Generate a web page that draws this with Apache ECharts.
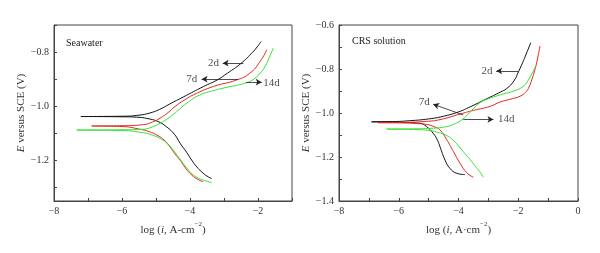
<!DOCTYPE html>
<html>
<head>
<meta charset="utf-8">
<script src="https://cdn.jsdelivr.net/npm/echarts@6/dist/echarts.min.js"></script>
<style>
  html, body { margin: 0; padding: 0; background: #fff; }
  #chart { width: 600px; height: 253px; }
</style>
</head>
<body>
<div id="chart"></div>
<script>
// Seawater: [log i, E] for each branch (cathodic / anodic start at the tip)
var seaBlackAnodic = [[-7.21,-1.038],[-6.0,-1.037],[-5.5,-1.033],[-5.18,-1.025],[-4.9,-1.012],[-4.6,-0.992],[-4.2,-0.966],[-3.6,-0.927],[-3.2,-0.903],[-2.9,-0.878],[-2.5,-0.842],[-2.2,-0.806],[-2.05,-0.785],[-1.91,-0.761]];
var seaBlackCathodic = [[-7.21,-1.038],[-6.0,-1.039],[-5.5,-1.041],[-5.27,-1.045],[-4.95,-1.056],[-4.69,-1.076],[-4.45,-1.105],[-4.29,-1.137],[-4.1,-1.17],[-3.95,-1.199],[-3.8,-1.224],[-3.66,-1.242],[-3.5,-1.258],[-3.36,-1.267]];
var seaRedAnodic = [[-6.89,-1.073],[-6.0,-1.072],[-5.37,-1.068],[-5.1,-1.058],[-4.88,-1.044],[-4.65,-1.024],[-4.44,-1.001],[-4.15,-0.976],[-3.9,-0.958],[-3.31,-0.927],[-2.63,-0.903],[-2.24,-0.878],[-1.94,-0.835],[-1.74,-0.791]];
var seaRedCathodic = [[-6.89,-1.073],[-6.0,-1.075],[-5.47,-1.085],[-5.2,-1.094],[-4.98,-1.106],[-4.75,-1.126],[-4.59,-1.15],[-4.45,-1.175],[-4.29,-1.199],[-4.15,-1.225],[-4.0,-1.248],[-3.8,-1.268],[-3.61,-1.279]];
var seaGreenAnodic = [[-7.33,-1.088],[-6.0,-1.087],[-5.37,-1.085],[-5.1,-1.076],[-4.88,-1.063],[-4.65,-1.045],[-4.49,-1.03],[-4.3,-1.01],[-4.1,-0.989],[-3.71,-0.958],[-3.3,-0.942],[-3.02,-0.933],[-2.38,-0.915],[-2.1,-0.898],[-1.94,-0.878],[-1.8,-0.855],[-1.7,-0.829],[-1.55,-0.785]];
var seaGreenCathodic = [[-7.33,-1.088],[-6.0,-1.09],[-5.37,-1.098],[-5.1,-1.107],[-4.88,-1.119],[-4.65,-1.14],[-4.49,-1.162],[-4.35,-1.186],[-4.2,-1.211],[-4.05,-1.235],[-3.9,-1.254],[-3.75,-1.266],[-3.61,-1.273],[-3.36,-1.282]];

// CRS solution
var crsBlackAnodic = [[-6.91,-1.04],[-6.2,-1.039],[-5.63,-1.035],[-5.0,-1.027],[-4.51,-1.015],[-4.0,-0.995],[-3.61,-0.972],[-3.05,-0.935],[-2.6,-0.905],[-2.38,-0.888],[-2.15,-0.855],[-1.99,-0.812],[-1.85,-0.77],[-1.77,-0.744],[-1.58,-0.68]];
var crsBlackCathodic = [[-6.91,-1.04],[-6.0,-1.042],[-5.29,-1.047],[-5.07,-1.062],[-4.85,-1.092],[-4.7,-1.125],[-4.62,-1.153],[-4.45,-1.214],[-4.29,-1.251],[-4.06,-1.274],[-3.78,-1.28]];
var crsRedAnodic = [[-6.69,-1.044],[-6.0,-1.043],[-5.07,-1.038],[-4.62,-1.03],[-3.95,-1.005],[-3.5,-0.988],[-2.94,-0.97],[-2.61,-0.95],[-2.2,-0.935],[-1.94,-0.924],[-1.75,-0.905],[-1.66,-0.888],[-1.55,-0.85],[-1.43,-0.797],[-1.35,-0.75],[-1.27,-0.695]];
var crsRedCathodic = [[-6.69,-1.044],[-6.0,-1.045],[-5.4,-1.048],[-5.07,-1.052],[-4.8,-1.063],[-4.62,-1.077],[-4.4,-1.12],[-4.17,-1.175],[-3.95,-1.228],[-3.72,-1.272],[-3.5,-1.292]];
var crsGreenAnodic = [[-6.41,-1.073],[-5.5,-1.072],[-4.85,-1.069],[-4.4,-1.062],[-4.17,-1.052],[-3.95,-1.037],[-3.75,-1.015],[-3.5,-0.98],[-3.28,-0.953],[-3.0,-0.935],[-2.61,-0.918],[-2.05,-0.895],[-1.8,-0.875],[-1.66,-0.85],[-1.52,-0.815],[-1.42,-0.789]];
var crsGreenCathodic = [[-6.41,-1.073],[-5.5,-1.075],[-5.07,-1.078],[-4.7,-1.088],[-4.4,-1.102],[-4.17,-1.125],[-3.95,-1.158],[-3.75,-1.19],[-3.61,-1.212],[-3.45,-1.24],[-3.3,-1.265],[-3.17,-1.292]];

// tick values
var seaXTicks = [-8,-7,-6,-5,-4,-3,-2,-1];
var seaXLabels = [-8,-6,-4,-2];
var seaYTicks = [-1.3,-1.2,-1.1,-1.0,-0.9,-0.8,-0.7];
var seaYLabels = [-1.2,-1.0,-0.8];
var crsXTicks = [-8,-7,-6,-5,-4,-3,-2,-1,0];
var crsXLabels = [-8,-6,-4,-2,0];
var crsYTicks = [-1.4,-1.3,-1.2,-1.1,-1.0,-0.9,-0.8,-0.7,-0.6];
var crsYLabels = [-1.4,-1.2,-1.0,-0.8,-0.6];

// annotations: label position, arrow tail, arrow head
var seaNotes = [
  {name: '2d', text: [-3.31,-0.841], from: [-2.43,-0.841], to: [-3.04,-0.841]},
  {name: '7d', text: [-3.95,-0.9], from: [-2.58,-0.9], to: [-3.66,-0.9]},
  {name: '14d', text: [-1.6,-0.913], from: [-2.35,-0.911], to: [-1.89,-0.911]}
];
var crsNotes = [
  {name: '2d', text: [-3.05,-0.809], from: [-1.99,-0.809], to: [-2.74,-0.809]},
  {name: '7d', text: [-5.15,-0.949], from: [-3.84,-1.009], to: [-4.85,-0.96]},
  {name: '14d', text: [-2.4,-1.029], from: [-3.84,-1.029], to: [-2.83,-1.029]}
];

var FONT = '"Liberation Serif", "DejaVu Serif", serif';
var BLACK = '#111111', RED = '#e8261f', GREEN = '#36e236';

function minusFmt(d) {
  return function(v) {
    var s = Number(v).toFixed(d);
    if (s === '0' || s === '-0') return '0';
    return s.replace('-', '\u2212');
  };
}

function xAxisOf(idx, min, max, ticks, labels, name) {
  return {
    type: 'value', gridIndex: idx, min: min, max: max,
    axisLine: {show: true, onZero: false, lineStyle: {color: '#444', width: 1}},
    axisTick: {show: true, inside: true, length: 3, customValues: ticks, lineStyle: {color: '#444'}},
    axisLabel: {customValues: labels, formatter: minusFmt(0), color: '#333', fontFamily: FONT, fontSize: 10, margin: 5},
    splitLine: {show: false},
    name: name, nameLocation: 'middle', nameGap: 19,
    nameTextStyle: {color: '#333', fontFamily: FONT, fontSize: 11,
      rich: {
        n: {fontFamily: FONT, fontSize: 11, color: '#333'},
        i: {fontFamily: FONT, fontSize: 11, fontStyle: 'italic', color: '#333'},
        sup: {fontFamily: FONT, fontSize: 7, color: '#333', verticalAlign: 'top', lineHeight: 18}
      }}
  };
}

function yAxisOf(idx, min, max, ticks, labels) {
  return {
    type: 'value', gridIndex: idx, min: min, max: max,
    axisLine: {show: true, onZero: false, lineStyle: {color: '#444', width: 1}},
    axisTick: {show: true, inside: true, length: 3, customValues: ticks, lineStyle: {color: '#444'}},
    axisLabel: {customValues: labels, formatter: minusFmt(1), color: '#333', fontFamily: FONT, fontSize: 10, margin: 5},
    splitLine: {show: false},
    name: '{i|E}{n| versus SCE (V)}', nameLocation: 'middle', nameGap: 23,
    nameTextStyle: {color: '#333', fontFamily: FONT, fontSize: 11,
      rich: {
        n: {fontFamily: FONT, fontSize: 11, color: '#333'},
        i: {fontFamily: FONT, fontSize: 11, fontStyle: 'italic', color: '#333'}
      }}
  };
}

function curve(idx, data, color) {
  return {
    type: 'line', xAxisIndex: idx, yAxisIndex: idx, data: data,
    showSymbol: false, smooth: 0.5,
    lineStyle: {color: color, width: 1}, silent: true, animation: false
  };
}

function notes(idx, list) {
  return {
    type: 'scatter', xAxisIndex: idx, yAxisIndex: idx, symbolSize: 0, silent: true, animation: false,
    data: list.map(function(n) { return {name: n.name, value: n.text}; }),
    label: {show: true, position: 'inside', formatter: '{b}', color: '#222', fontFamily: FONT, fontSize: 11},
    markLine: {
      silent: true, animation: false,
      symbol: ['none', 'arrow'], symbolSize: [5, 6],
      label: {show: false},
      lineStyle: {color: '#222', width: 0.8, type: 'solid'},
      data: list.map(function(n) { return [{coord: n.from}, {coord: n.to}]; })
    }
  };
}

var chart = echarts.init(document.getElementById('chart'), null, {renderer: 'canvas'});
var option = {
  backgroundColor: '#fff',
  animation: false,
  title: [
    {text: 'Seawater', left: 61, top: 33, textStyle: {fontFamily: FONT, fontSize: 10, fontWeight: 'normal', color: '#222'}},
    {text: 'CRS solution', left: 347, top: 31, textStyle: {fontFamily: FONT, fontSize: 10, fontWeight: 'normal', color: '#222'}}
  ],
  grid: [
    {left: 54, top: 25, width: 238, height: 176, show: true, borderColor: '#444', borderWidth: 1, backgroundColor: 'transparent'},
    {left: 339, top: 25, width: 239, height: 176, show: true, borderColor: '#444', borderWidth: 1, backgroundColor: 'transparent'}
  ],
  xAxis: [
    xAxisOf(0, -8, -1, seaXTicks, seaXLabels, '{n|log (}{i|i}{n|, A-cm}{sup|\u22122}{n|)}'),
    xAxisOf(1, -8, 0, crsXTicks, crsXLabels, '{n|log (}{i|i}{n|, A\u00b7cm}{sup|\u22122}{n|)}')
  ],
  yAxis: [
    yAxisOf(0, -1.35, -0.7, seaYTicks, seaYLabels),
    yAxisOf(1, -1.4, -0.6, crsYTicks, crsYLabels)
  ],
  series: [
    curve(0, seaBlackAnodic, BLACK), curve(0, seaBlackCathodic, BLACK),
    curve(0, seaRedAnodic, RED), curve(0, seaRedCathodic, RED),
    curve(0, seaGreenAnodic, GREEN), curve(0, seaGreenCathodic, GREEN),
    curve(1, crsBlackAnodic, BLACK), curve(1, crsBlackCathodic, BLACK),
    curve(1, crsRedAnodic, RED), curve(1, crsRedCathodic, RED),
    curve(1, crsGreenAnodic, GREEN), curve(1, crsGreenCathodic, GREEN),
    notes(0, seaNotes), notes(1, crsNotes)
  ]
};
chart.setOption(option);
</script>
</body>
</html>
